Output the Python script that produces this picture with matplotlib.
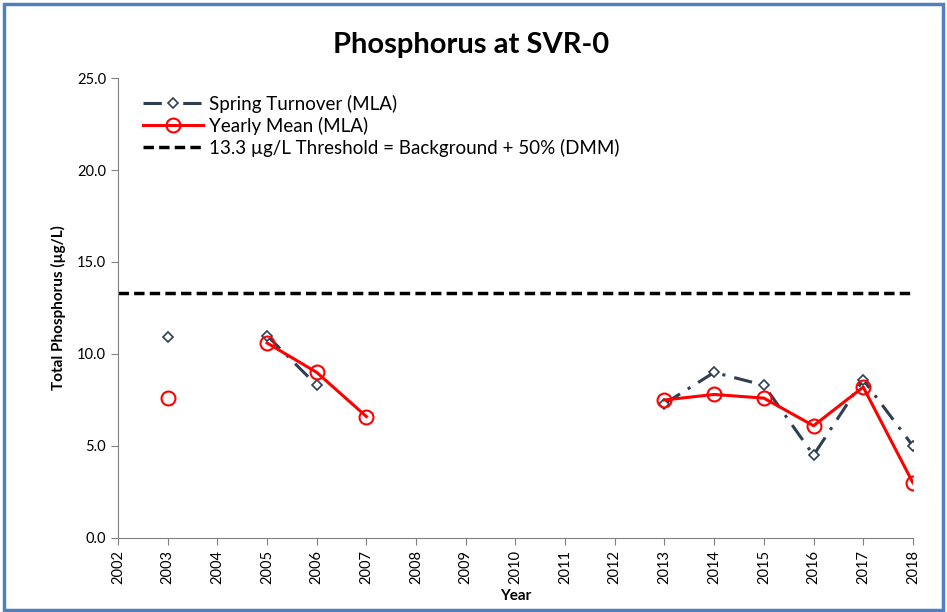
import numpy as np
import matplotlib.pyplot as plt
from matplotlib.patches import Rectangle

plt.rcParams['font.family'] = ['Lato', 'DejaVu Sans']

years = np.arange(2002, 2019)
nan = np.nan
# spring turnover values (gaps where not sampled)
spring = [nan, 10.9, nan, 11.0, 8.3, nan, nan, nan, nan, nan, nan,
          7.3, 9.0, 8.3, 4.5, 8.6, 5.0]
# yearly mean values
yearly = [nan, 7.6, nan, 10.6, 9.0, 6.6, nan, nan, nan, nan, nan,
          7.5, 7.8, 7.6, 6.1, 8.2, 3.0]
threshold = 13.3

fig = plt.figure(figsize=(9.47, 6.12), dpi=100)
ax = fig.add_axes([0.1246, 0.121, 0.8394, 0.7515])

# blue border round the chart
fig.patches.append(Rectangle((0.004, 0.004), 0.992, 0.990, transform=fig.transFigure,
                             fill=False, edgecolor='#4f81bd', linewidth=2.5))

ax.plot(years, spring, color='#2e3f52', linestyle=(0, (6, 3, 1, 3)), linewidth=2.2,
        marker='D', markersize=5, markerfacecolor='white', markeredgecolor='#2e3f52',
        markeredgewidth=1.2, label='Spring Turnover (MLA)')
ax.plot(years, yearly, color='#ff0000', linewidth=2.2, marker='o', markersize=10,
        markerfacecolor='none', markeredgecolor='#ff0000', markeredgewidth=1.5,
        label='Yearly Mean (MLA)')
ax.axhline(threshold, color='black', linestyle=(0, (3, 1.5)), linewidth=2.5,
           label='13.3 µg/L Threshold = Background + 50% (DMM)')

ax.set_xlim(2002, 2018)
ax.set_ylim(0, 25)
ax.set_xticks(years)
ax.set_xticklabels([str(y) for y in years], rotation=90, fontsize=10.5)
ax.set_yticks(np.arange(0, 25.1, 5))
ax.set_yticklabels(['%.1f' % v for v in np.arange(0, 25.1, 5)], fontsize=10.5)
ax.tick_params(axis='both', direction='out', length=5, color='#808080')

for s in ['top', 'right']:
    ax.spines[s].set_visible(False)
for s in ['left', 'bottom']:
    ax.spines[s].set_color('#808080')

ax.set_xlabel('Year', fontsize=11, fontweight='bold', labelpad=4)
ax.set_ylabel('Total Phosphorus (µg/L)', fontsize=11, fontweight='bold', labelpad=8)
fig.text(0.497, 0.926, 'Phosphorus at SVR-0', fontsize=21, fontweight='bold',
         ha='center', va='center')

ax.legend(loc='upper left', bbox_to_anchor=(0.008, 1.005), frameon=False, fontsize=13.5,
          handlelength=3.2, handletextpad=0.3, labelspacing=0.22, borderaxespad=0.6)

fig.savefig('out.png', dpi=100)
